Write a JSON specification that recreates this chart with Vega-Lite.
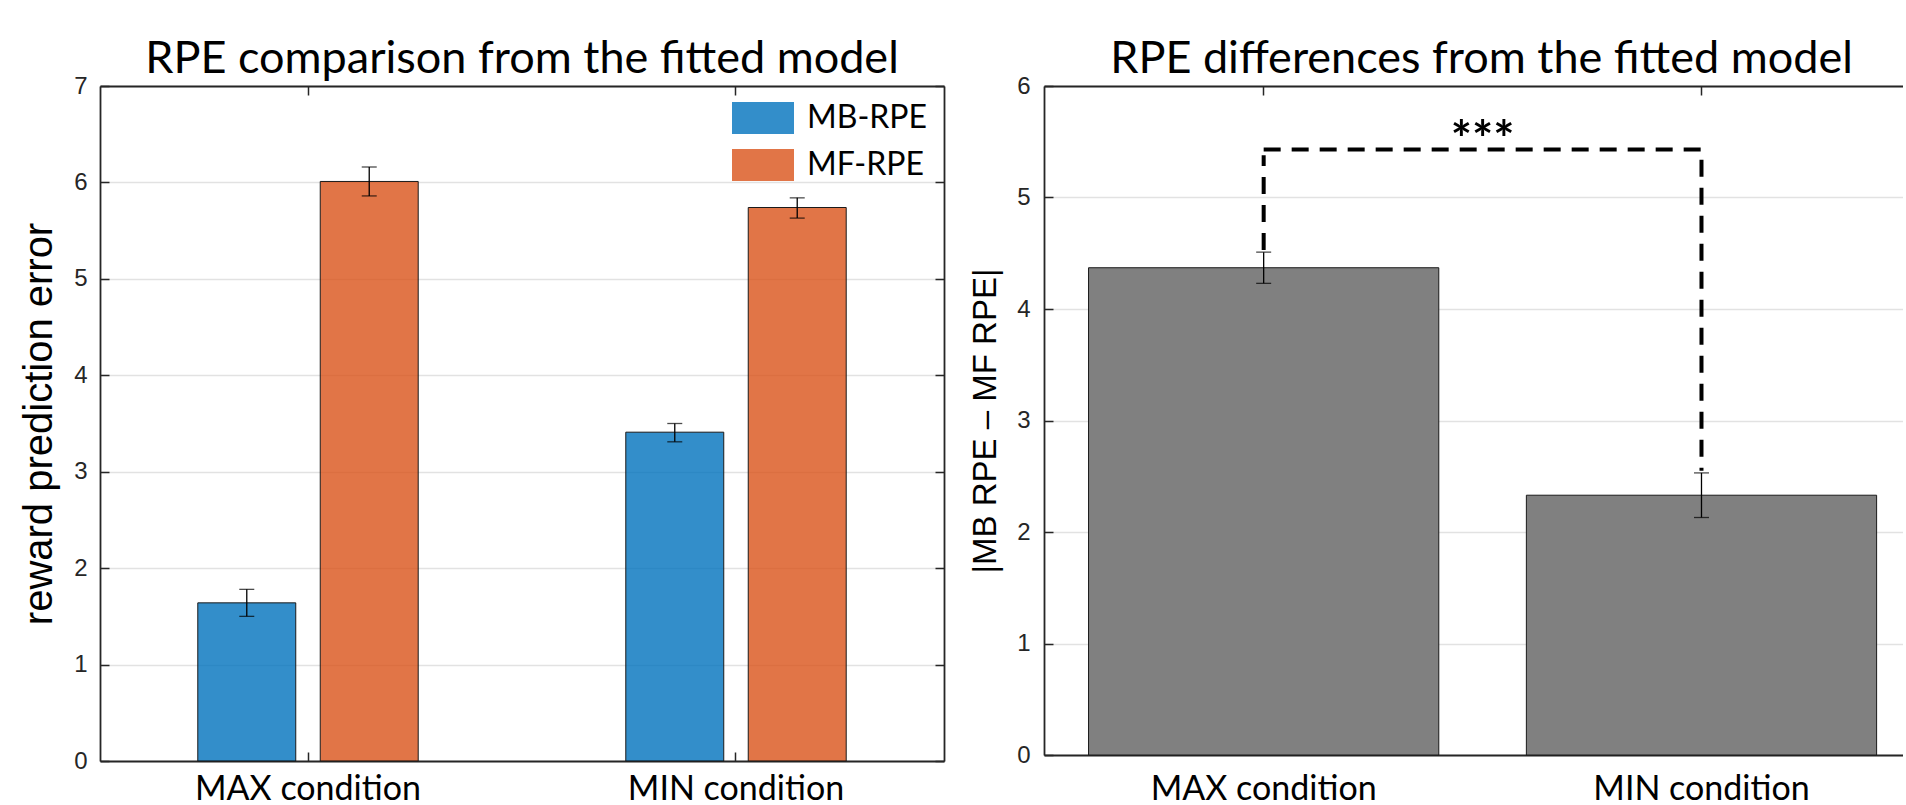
{
  "$schema": "https://vega.github.io/schema/vega-lite/v6.json",
  "padding": {"left": 19, "top": 37, "right": 0, "bottom": 0},
  "spacing": 24,
  "config": {
    "view": {"stroke": null},
    "font": "Liberation Sans",
    "axis": {
      "domainColor": "#262626", "domainWidth": 1.8,
      "tickColor": "#262626", "tickWidth": 1.5,
      "labelColor": "#262626", "titleColor": "#000000",
      "gridColor": "#e2e2e2", "gridWidth": 1.5, "labelLimit": 0
    },
    "title": {"font": "Lato", "fontSize": 45, "fontWeight": "normal", "color": "#000000", "offset": -8, "frame": "group"}
  },
  "resolve": {"scale": {"color": "independent"}, "legend": {"color": "independent"}},
  "hconcat": [
    {
      "width": 844, "height": 675,
      "title": {"text": "RPE comparison from the fitted model"},
      "data": {"values": [
        {"condition": "MAX condition", "type": "MB-RPE", "rpe": 1.64, "lo": 1.50, "hi": 1.78},
        {"condition": "MAX condition", "type": "MF-RPE", "rpe": 6.01, "lo": 5.86, "hi": 6.16},
        {"condition": "MIN condition", "type": "MB-RPE", "rpe": 3.41, "lo": 3.31, "hi": 3.50},
        {"condition": "MIN condition", "type": "MF-RPE", "rpe": 5.74, "lo": 5.63, "hi": 5.84}
      ]},
      "layer": [
        {
          "mark": {"type": "bar", "fillOpacity": 0.8, "stroke": "#1a1a1a", "strokeWidth": 1},
          "encoding": {
            "x": {"field": "condition", "type": "nominal", "sort": null,
              "scale": {"paddingInner": 0.485, "paddingOuter": 0.2285},
              "axis": {"title": null, "labelAngle": 0, "tickSize": -9, "labelPadding": 20, "labelFont": "Lato", "labelFontSize": 34, "labelColor": "#000000", "grid": false}},
            "xOffset": {"field": "type", "type": "nominal", "sort": null, "scale": {"paddingInner": 0.2, "paddingOuter": 0}},
            "y": {"field": "rpe", "type": "quantitative", "scale": {"domain": [0, 7], "nice": false},
              "axis": {"values": [0, 1, 2, 3, 4, 5, 6, 7], "grid": true, "tickSize": -9, "labelPadding": 22, "labelFontSize": 24,
                "title": "reward prediction error", "titleFont": "Liberation Sans", "titleFontSize": 40, "titleFontWeight": "normal", "titlePadding": 14}},
            "color": {"field": "type", "type": "nominal", "sort": null,
              "scale": {"range": ["#0072BD", "#D95319"]},
              "legend": {"orient": "none", "legendX": 632, "legendY": 1, "title": null, "padding": 0,
                "symbolType": "M-1,-0.516L1,-0.516L1,0.516L-1,0.516Z", "symbolSize": 3844,
                "symbolStrokeWidth": 0, "symbolOpacity": 0.8,
                "labelFont": "Lato", "labelFontSize": 32, "labelColor": "#000000", "labelOffset": 13, "rowPadding": -2}}
          }
        },
        {
          "mark": {"type": "rule", "color": "#000000", "strokeWidth": 1.3},
          "encoding": {
            "x": {"field": "condition", "type": "nominal", "sort": null, "axis": null},
            "xOffset": {"field": "type", "type": "nominal", "sort": null},
            "y": {"field": "lo", "type": "quantitative", "axis": null},
            "y2": {"field": "hi"}
          }
        },
        {
          "mark": {"type": "tick", "color": "#000000", "size": 15, "thickness": 1.3},
          "encoding": {
            "x": {"field": "condition", "type": "nominal", "sort": null, "axis": null},
            "xOffset": {"field": "type", "type": "nominal", "sort": null},
            "y": {"field": "lo", "type": "quantitative", "axis": null}
          }
        },
        {
          "mark": {"type": "tick", "color": "#000000", "size": 15, "thickness": 1.3},
          "encoding": {
            "x": {"field": "condition", "type": "nominal", "sort": null,
              "axis": {"orient": "top", "labels": false, "title": null, "tickSize": -9, "grid": false}},
            "xOffset": {"field": "type", "type": "nominal", "sort": null},
            "y": {"field": "hi", "type": "quantitative",
              "axis": {"orient": "right", "labels": false, "title": null, "tickSize": -9, "grid": false, "values": [0, 1, 2, 3, 4, 5, 6, 7]}}
          }
        }
      ],
      "resolve": {"axis": {"x": "independent", "y": "independent"}}
    },
    {
      "width": 859, "height": 669,
      "title": {"text": "RPE differences from the fitted model", "dx": 8},
      "layer": [
        {
          "data": {"values": [
            {"condition": "MAX condition", "diff": 4.37, "lo": 4.23, "hi": 4.51},
            {"condition": "MIN condition", "diff": 2.33, "lo": 2.13, "hi": 2.53}
          ]},
          "mark": {"type": "bar", "fill": "#808080", "stroke": "#1a1a1a", "strokeWidth": 1},
          "encoding": {
            "x": {"field": "condition", "type": "nominal", "sort": null,
              "scale": {"domain": ["MAX condition", "MIN condition"], "paddingInner": 0.2, "paddingOuter": 0.081, "align": 0.628},
              "axis": {"title": null, "labelAngle": 0, "tickSize": -9, "labelPadding": 26, "labelFont": "Lato", "labelFontSize": 34, "labelColor": "#000000", "grid": false}},
            "y": {"field": "diff", "type": "quantitative", "scale": {"domain": [0, 6], "nice": false},
              "axis": {"values": [0, 1, 2, 3, 4, 5, 6], "grid": true, "tickSize": -9, "labelPadding": 23, "labelFontSize": 24,
                "title": "|MB RPE – MF RPE|", "titleFont": "Liberation Sans", "titleFontSize": 33, "titleFontWeight": "normal", "titlePadding": 14}}
          }
        },
        {
          "data": {"values": [
            {"condition": "MAX condition", "diff": 4.37, "lo": 4.23, "hi": 4.51},
            {"condition": "MIN condition", "diff": 2.33, "lo": 2.13, "hi": 2.53}
          ]},
          "mark": {"type": "rule", "color": "#000000", "strokeWidth": 1.3},
          "encoding": {
            "x": {"field": "condition", "type": "nominal", "sort": null, "axis": null},
            "y": {"field": "lo", "type": "quantitative", "axis": null},
            "y2": {"field": "hi"}
          }
        },
        {
          "data": {"values": [
            {"condition": "MAX condition", "diff": 4.37, "lo": 4.23, "hi": 4.51},
            {"condition": "MIN condition", "diff": 2.33, "lo": 2.13, "hi": 2.53}
          ]},
          "mark": {"type": "tick", "color": "#000000", "size": 15, "thickness": 1.3},
          "encoding": {
            "x": {"field": "condition", "type": "nominal", "sort": null, "axis": null},
            "y": {"field": "lo", "type": "quantitative", "axis": null}
          }
        },
        {
          "data": {"values": [
            {"condition": "MAX condition", "diff": 4.37, "lo": 4.23, "hi": 4.51},
            {"condition": "MIN condition", "diff": 2.33, "lo": 2.13, "hi": 2.53}
          ]},
          "mark": {"type": "tick", "color": "#000000", "size": 15, "thickness": 1.3},
          "encoding": {
            "x": {"field": "condition", "type": "nominal", "sort": null,
              "axis": {"orient": "top", "labels": false, "title": null, "tickSize": -9, "grid": false}},
            "y": {"field": "hi", "type": "quantitative", "axis": null}
          }
        },
        {
          "data": {"values": [
            {"condition": "MAX condition", "y": 4.53, "seg": "a", "ord": 1},
            {"condition": "MAX condition", "y": 5.38, "seg": "a", "ord": 2},
            {"condition": "MAX condition", "y": 5.43, "seg": "b", "ord": 1},
            {"condition": "MIN condition", "y": 5.43, "seg": "b", "ord": 2},
            {"condition": "MIN condition", "y": 2.55, "seg": "b", "ord": 3}
          ]},
          "mark": {"type": "line", "color": "#000000", "strokeWidth": 4, "strokeDash": [17, 11]},
          "encoding": {
            "x": {"field": "condition", "type": "nominal", "sort": null, "axis": null},
            "y": {"field": "y", "type": "quantitative", "axis": null},
            "detail": {"field": "seg"},
            "order": {"field": "ord"}
          }
        },
        {
          "data": {"values": [{"condition": "MAX condition", "y": 5.36, "label": "***"}]},
          "mark": {"type": "text", "font": "Lato", "fontWeight": "bold", "fontSize": 50, "baseline": "alphabetic", "align": "center", "color": "#000000"},
          "encoding": {
            "x": {"field": "condition", "type": "nominal", "sort": null, "bandPosition": 1.125, "axis": null},
            "y": {"field": "y", "type": "quantitative", "axis": null},
            "text": {"field": "label"}
          }
        }
      ],
      "resolve": {"axis": {"x": "independent", "y": "independent"}}
    }
  ]
}
